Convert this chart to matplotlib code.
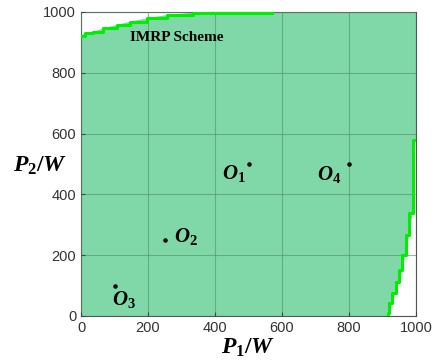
import matplotlib.pyplot as plt
import numpy as np

# boundary of the feasible region
top_x = [0, 12, 37, 67, 106, 146, 196, 256, 335, 569]
top_y = [921, 930, 935, 946, 957, 968, 979, 990, 998, 998]
right_x = [916, 920, 929, 939, 949, 959, 969, 980, 990, 998]
right_y = [0, 11, 44, 75, 113, 151, 201, 266, 338, 579]

# operating points
pts_x = [500, 250, 100, 800]
pts_y = [500, 250, 100, 500]
pts_lbl = [r"$\mathbf{\mathit{O_1}}$", r"$\mathbf{\mathit{O_2}}$",
           r"$\mathbf{\mathit{O_3}}$", r"$\mathbf{\mathit{O_4}}$"]
lbl_x = [455, 313, 128, 741]
lbl_y = [470, 261, 55, 464]

plt.rcParams["mathtext.fontset"] = "custom"
plt.rcParams["mathtext.it"] = "Liberation Serif:italic:bold"
plt.rcParams["mathtext.bf"] = "Liberation Serif:italic:bold"
plt.rcParams["mathtext.rm"] = "Liberation Serif:bold"

fig = plt.figure(figsize=(4.42, 3.61), dpi=100)
ax = fig.add_axes([0.1833, 0.1247, 0.7579, 0.8421])

poly_x = [0] + top_x + [1000, 1000] + right_x[::-1]
poly_y = [0] + top_y + [1000, right_y[-1]] + right_y[::-1]
ax.fill(poly_x, poly_y, color="#80d8a8", lw=0, zorder=0)

ax.plot(top_x, top_y, color="#00ee00", lw=2.2, drawstyle="steps-post", zorder=3)
ax.plot(right_x, right_y, color="#00ee00", lw=2.2, drawstyle="steps-pre", zorder=3)

ax.scatter(pts_x, pts_y, s=5, color="black", zorder=4)
for x, y, t in zip(lbl_x, lbl_y, pts_lbl):
    ax.text(x, y, t, fontsize=15, ha="center", va="center", zorder=5)

ax.text(286, 917, "IMRP Scheme", fontsize=11, fontweight="bold",
        family="Liberation Serif", ha="center", va="center")

ax.set_xlim(0, 1000)
ax.set_ylim(0, 1000)
ax.set_xticks(np.arange(0, 1001, 200))
ax.set_yticks(np.arange(0, 1001, 200))
ax.grid(True, color="#4f8f63", lw=0.8, alpha=0.6)
ax.set_axisbelow(False)
ax.tick_params(direction="in", labelsize=10.5, length=3, color="#444444")
for lab in ax.get_xticklabels() + ax.get_yticklabels():
    lab.set_family("Liberation Sans")
    lab.set_color("#333333")
for s in ax.spines.values():
    s.set_color("#555555")
    s.set_linewidth(0.8)

ax.set_xlabel(r"$P_1/W$", fontsize=17, labelpad=0)
ax.set_ylabel(r"$P_2/W$", fontsize=17, rotation=0, va="center", ha="center")
ax.yaxis.set_label_coords(-0.122, 0.497)

fig.savefig("out.png", dpi=100)
